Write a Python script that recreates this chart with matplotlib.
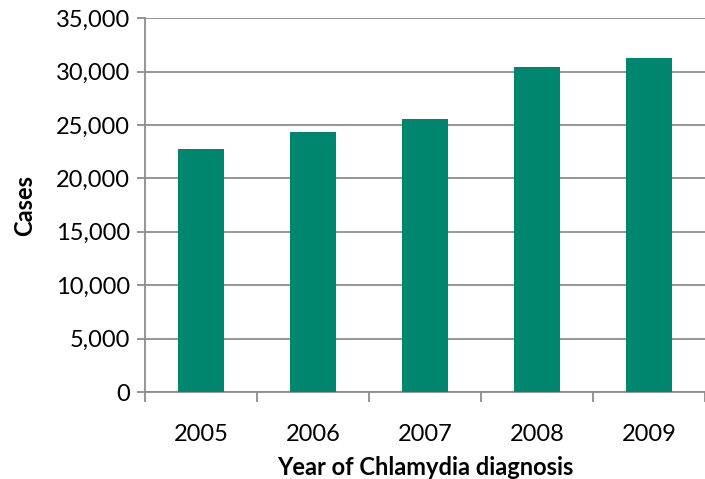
import matplotlib

matplotlib.use("Agg")
import matplotlib.pyplot as plt  # noqa: E402
from matplotlib.ticker import FuncFormatter, FixedLocator  # noqa: E402

years = ["2005", "2006", "2007", "2008", "2009"]
cases = [22780, 24340, 25530, 30440, 31280]

plt.rcParams["font.family"] = ["Lato", "DejaVu Sans"]

fig = plt.figure(figsize=(7.05, 4.79), dpi=100)
ax = fig.add_axes([0.2057, 0.1816, 0.7943, 0.7804])

x = list(range(len(years)))
ax.bar(x, cases, width=0.41, color="#00856f", zorder=3)

ax.set_xlim(-0.5, len(years) - 0.5)
ax.set_ylim(0, 35000)
ax.set_yticks(range(0, 35001, 5000))
ax.yaxis.set_major_formatter(FuncFormatter(lambda v, _: f"{int(v):,}"))
ax.grid(axis="y", color="#8c8c8c", lw=1.3, zorder=0)

ax.set_xticks(x)
ax.set_xticklabels(years)
ax.xaxis.set_minor_locator(FixedLocator([i - 0.5 for i in range(len(years) + 1)]))
ax.tick_params(axis="x", which="major", length=0, pad=23, labelsize=17)
ax.tick_params(axis="x", which="minor", length=7, width=1.3, color="#8c8c8c")
ax.tick_params(axis="y", length=6, width=1.3, color="#8c8c8c", labelsize=17, pad=5)

for side in ("top", "right"):
    ax.spines[side].set_visible(False)
for side in ("left", "bottom"):
    ax.spines[side].set_color("#8c8c8c")
    ax.spines[side].set_linewidth(1.3)

ax.set_xlabel("Year of Chlamydia diagnosis", fontsize=17, fontweight="bold", labelpad=8)
ax.set_ylabel("Cases", fontsize=17, fontweight="bold", labelpad=14)

fig.savefig("out.png", dpi=100)
